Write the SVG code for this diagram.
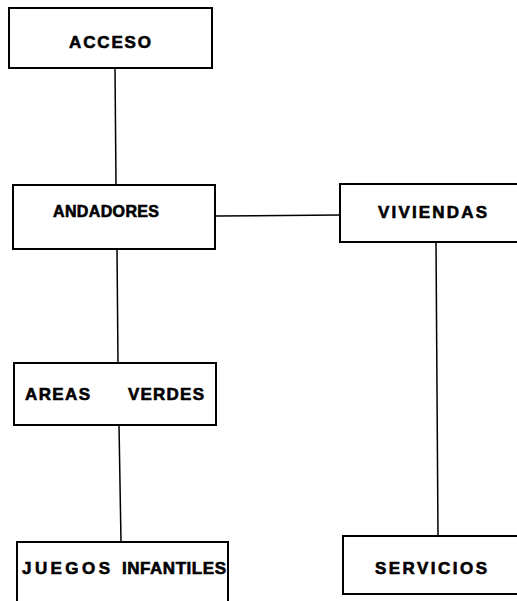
<svg xmlns="http://www.w3.org/2000/svg" width="517" height="601" viewBox="0 0 517 601">
<style>
.box{fill:#fff;stroke:#000;stroke-width:2}
.lbl{font-family:"Liberation Sans",Arial,sans-serif;font-weight:bold;font-size:17px;fill:#000;stroke:#000;stroke-width:0.6}
.sm{font-size:16px}
.con{stroke:#000;stroke-width:1.5;fill:none}
</style>
<rect x="0" y="0" width="517" height="601" fill="#fff"/>
<g id="connectors">
<line class="con" x1="115" y1="68" x2="116" y2="185"/>
<line class="con" x1="117" y1="249" x2="118" y2="363"/>
<line class="con" x1="119" y1="425" x2="121" y2="542"/>
<line class="con" x1="215" y1="216" x2="340" y2="215"/>
<line class="con" x1="436" y1="242" x2="438" y2="536"/>
</g>
<g id="acceso">
<rect class="box" x="9" y="8" width="203" height="60"/>
<text class="lbl" x="69" y="48" textLength="82" lengthAdjust="spacing">ACCESO</text>
</g>
<g id="andadores">
<rect class="box" x="13" y="185" width="202" height="64"/>
<text class="lbl sm" x="53" y="217" textLength="106" lengthAdjust="spacing">ANDADORES</text>
</g>
<g id="viviendas">
<rect class="box" x="340" y="184" width="190" height="58"/>
<text class="lbl" x="378" y="218" textLength="109" lengthAdjust="spacing">VIVIENDAS</text>
</g>
<g id="areas-verdes">
<rect class="box" x="14" y="363" width="202" height="62"/>
<text class="lbl" x="25" y="400" textLength="65" lengthAdjust="spacing">AREAS</text>
<text class="lbl" x="128" y="400" textLength="76" lengthAdjust="spacing">VERDES</text>
</g>
<g id="juegos-infantiles">
<rect class="box" x="17" y="542" width="211" height="70"/>
<text class="lbl" x="22" y="574" textLength="88" lengthAdjust="spacing">JUEGOS</text>
<text class="lbl" x="122" y="574" textLength="104" lengthAdjust="spacing">INFANTILES</text>
</g>
<g id="servicios">
<rect class="box" x="343" y="536" width="190" height="58"/>
<text class="lbl" x="375" y="574" textLength="112" lengthAdjust="spacing">SERVICIOS</text>
</g>
</svg>
